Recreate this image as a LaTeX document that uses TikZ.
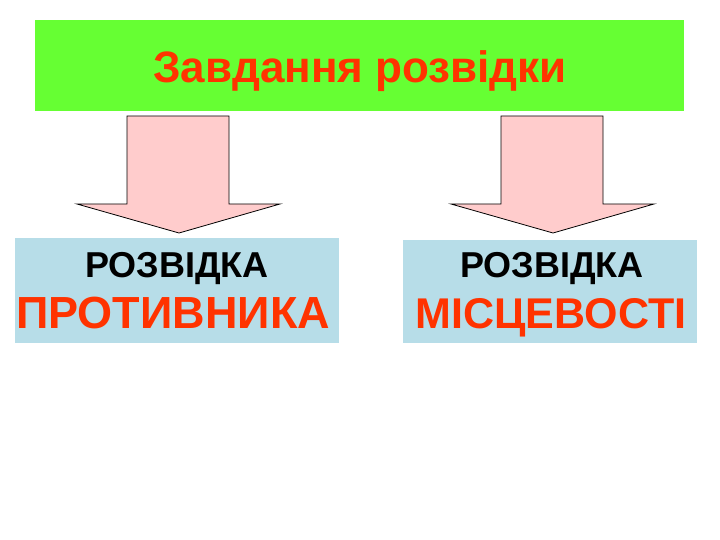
\documentclass[tikz,border=0pt]{standalone}
\usepackage{fontspec}
\setmainfont{Liberation Sans}
\usetikzlibrary{positioning,calc}

\definecolor{titlegreen}{HTML}{66FF33}
\definecolor{titlered}{HTML}{FF3300}
\definecolor{boxblue}{HTML}{B7DDE8}
\definecolor{arrowpink}{HTML}{FFCCCC}

\tikzset{
  bluebox/.style={fill=boxblue, draw=none, inner sep=0pt},
  blockarrow/.style={fill=arrowpink, draw=black, line width=0.8pt, line join=miter},
  smallword/.style={anchor=base, font=\bfseries\fontsize{36}{38}\selectfont},
  bigword/.style={anchor=base, text=titlered, font=\bfseries\fontsize{45}{48}\selectfont}
}

\begin{document}
\begin{tikzpicture}[x=1pt, y=-1pt]
    % whole page, 720 by 540
    \useasboundingbox (0,0) rectangle (720,540);

    % green title bar
    \node[fill=titlegreen, minimum width=649pt, minimum height=91pt, inner sep=0pt] (title) at (359.5,65.5) {};
    \node[anchor=base, text=titlered, font=\bfseries\fontsize{44}{46}\selectfont] (titletext) at (360,83) {Завдання розвідки};

    % the two blue boxes
    \node[bluebox, minimum width=324pt, minimum height=105pt] (enemy) at (177,290.5) {};
    \node[bluebox, minimum width=294pt, minimum height=103pt] (ground) at (550,291.5) {};

    % texts in the boxes
    \node[smallword] (enemytop) at (177,277) {РОЗВІДКА};
    \node[bigword] (enemybottom) at (173,328) {ПРОТИВНИКА};
    \node[smallword] (groundtop) at (552,277) {РОЗВІДКА};
    \node[bigword, font=\bfseries\fontsize{43}{46}\selectfont] (groundbottom) at (551,328) {МІСЦЕВОСТІ};

    % block arrows from the title bar down to the boxes
    \coordinate (lefttip) at (179,233);
    \coordinate (righttip) at (553,233);
    \draw[blockarrow] ($(lefttip)+(-52,-117)$) -- ++(102,0) -- ++(0,88) -- ++(51,0)
        -- (lefttip) -- ++(-102,-29) -- ++(50,0) -- cycle;
    \draw[blockarrow] ($(righttip)+(-52,-117)$) -- ++(102,0) -- ++(0,88) -- ++(51,0)
        -- (righttip) -- ++(-102,-29) -- ++(50,0) -- cycle;
\end{tikzpicture}
\end{document}
